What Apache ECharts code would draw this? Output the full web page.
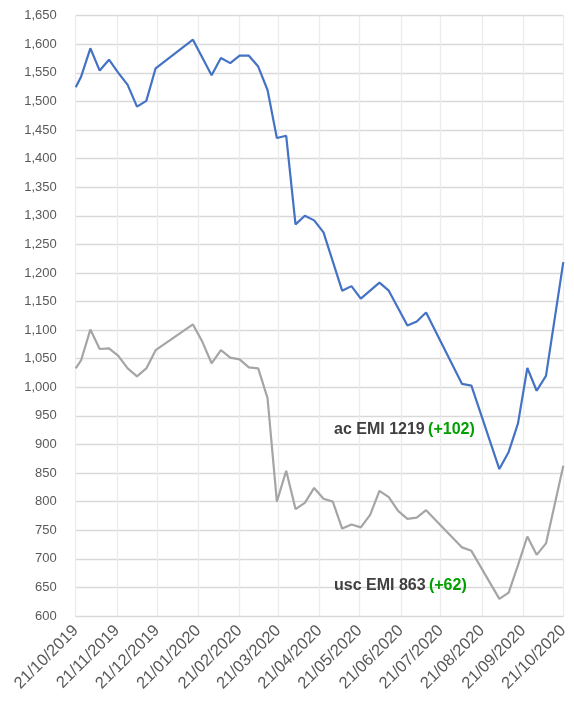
<!DOCTYPE html>
<html>
<head>
<meta charset="utf-8">
<script src="https://cdn.jsdelivr.net/npm/echarts@6/dist/echarts.min.js"></script>
<style>
html,body{margin:0;padding:0;background:#fff;}
#chart{width:574px;height:716px;}
</style>
</head>
<body>
<div id="chart"></div>
<script>
// Tick labels on the date axis
const tickLabels = ['21/10/2019','21/11/2019','21/12/2019','21/01/2020','21/02/2020','21/03/2020','21/04/2020','21/05/2020','21/06/2020','21/07/2020','21/08/2020','21/09/2020','21/10/2020'];

// Observation dates
const dates = ['2019-10-21','2019-10-25','2019-11-01','2019-11-08','2019-11-15','2019-11-22','2019-11-29','2019-12-06','2019-12-13','2019-12-20',
  '2020-01-17','2020-01-24','2020-01-31','2020-02-07','2020-02-14','2020-02-21','2020-02-28','2020-03-06','2020-03-13','2020-03-20',
  '2020-03-27','2020-04-03','2020-04-10','2020-04-17','2020-04-24','2020-05-01','2020-05-08','2020-05-15','2020-05-22','2020-05-29',
  '2020-06-05','2020-06-12','2020-06-19','2020-06-26','2020-07-03','2020-07-10','2020-08-06','2020-08-13','2020-09-03','2020-09-10',
  '2020-09-17','2020-09-24','2020-10-01','2020-10-08','2020-10-15','2020-10-21'];

// ac EMI (blue)
const acEMI = [1525,1543,1593,1554,1573,1550,1529,1491,1501,1558,
  1608,null,1546,1576,1567,1580,1580,1561,1520,1436,
  1440,1285,1300,1292,1271,null,1169,1177,1155,null,
  1183,1169,null,1108,1115,1131,1006,1003,857,887,
  937,1034,994,1020,null,1219];

// usc EMI (gray)
const uscEMI = [1033,1047,1101,1067,1068,1055,1033,1019,1033,1065,
  1110,1080,1042,1065,1052,1049,1035,1033,981,800,
  854,787,798,824,805,800,753,760,755,777,
  819,808,784,770,772,785,720,714,630,641,
  689,739,707,727,800,863];

const acLabel = 'ac EMI 1219';
const acChange = '(+102)';
const uscLabel = 'usc EMI 863';
const uscChange = '(+62)';

function parseISO(s){const p=s.split('-').map(Number);return Date.UTC(p[0],p[1]-1,p[2]);}
function parseDMY(s){const p=s.split('/').map(Number);return Date.UTC(p[2],p[1]-1,p[0]);}
const tickValues = tickLabels.map(parseDMY);
function pairs(vals){const out=[];vals.forEach((v,i)=>{if(v!==null)out.push([parseISO(dates[i]),v]);});return out;}
function fmtDate(t){const i=tickValues.indexOf(t);if(i>=0)return tickLabels[i];const d=new Date(t);return String(d.getUTCDate()).padStart(2,'0')+'/'+String(d.getUTCMonth()+1).padStart(2,'0')+'/'+d.getUTCFullYear();}

const FONT = 'Liberation Sans';
const richStyle = {
  a:{fill:'#404040',fontFamily:FONT,fontWeight:'bold',fontSize:16},
  b:{fill:'#00A000',fontFamily:FONT,fontWeight:'bold',fontSize:16}
};
const chart = echarts.init(document.getElementById('chart'), null, {renderer:'canvas'});
chart.setOption({
  animation:false,
  backgroundColor:'#ffffff',
  grid:{left:75.7, right:10.7, top:15.7, bottom:100, containLabel:false},
  xAxis:{
    type:'value',
    min:tickValues[0],
    max:tickValues[tickValues.length-1],
    axisLine:{show:true,lineStyle:{color:'#d9d9d9',width:1}},
    axisTick:{show:false, customValues:tickValues},
    axisLabel:{customValues:tickValues, rotate:45, color:'#595959', fontFamily:FONT, fontSize:16.5, margin:12,
      showMinLabel:true, showMaxLabel:true,
      formatter:function(v){return fmtDate(v);}},
    splitLine:{show:true,lineStyle:{color:'#ececec',width:1.3}}
  },
  yAxis:{
    type:'value', min:600, max:1650, interval:50,
    axisLine:{show:false}, axisTick:{show:false},
    axisLabel:{color:'#595959', fontFamily:FONT, fontSize:13, margin:19,
      formatter:function(v){return v.toLocaleString('en-US');}},
    splitLine:{lineStyle:{color:'#d9d9d9',width:1.3}}
  },
  series:[
    {name:'ac EMI', type:'line', data:pairs(acEMI), showSymbol:false, symbol:'none',
     lineStyle:{color:'#4472C4',width:2.2}, itemStyle:{color:'#4472C4'}},
    {name:'usc EMI', type:'line', data:pairs(uscEMI), showSymbol:false, symbol:'none',
     lineStyle:{color:'#A5A5A5',width:2.2}, itemStyle:{color:'#A5A5A5'}}
  ],
  graphic:[
    {type:'text', z:100, zlevel:1, left:334, top:421.5, style:{text:'{a|'+acLabel+'} {b|'+acChange+'}', rich:richStyle}},
    {type:'text', z:100, zlevel:1, left:334, top:577.5, style:{text:'{a|'+uscLabel+'} {b|'+uscChange+'}', rich:richStyle}}
  ]
});
</script>
</body>
</html>
